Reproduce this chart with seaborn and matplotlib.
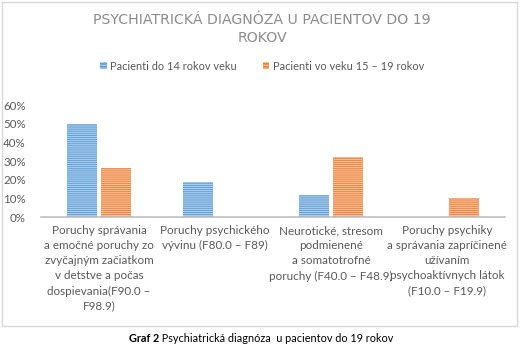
import matplotlib
matplotlib.use("Agg")
import matplotlib.pyplot as plt
from matplotlib.patches import Rectangle, Patch
from matplotlib.ticker import PercentFormatter
import seaborn as sns
import pandas as pd

# --- data -------------------------------------------------------------
categories = [
    "Poruchy správania\na emočné poruchy zo\nzvyčajným začiatkom\nv detstve a počas\ndospievania(F90.0 –\nF98.9)",
    "Poruchy psychického\nvývinu (F80.0 – F89)",
    "Neurotické, stresom\npodmienené\na somatotrofné\nporuchy (F40.0 – F48.9)",
    "Poruchy psychiky\na správania zapríčinené\nužívaním\npsychoaktívnych látok\n(F10.0 – F19.9)",
]
series_names = ["Pacienti do 14 rokov veku", "Pacienti vo veku 15 – 19 rokov"]
under_14 = [0.50, 0.19, 0.12, 0.0]
age_15_19 = [0.26, 0.0, 0.32, 0.10]
y_ticks = [0.0, 0.1, 0.2, 0.3, 0.4, 0.5, 0.6]

title = "PSYCHIATRICKÁ DIAGNÓZA U PACIENTOV DO 19\nROKOV"
caption_bold = "Graf 2"
caption_rest = " Psychiatrická diagnóza  u pacientov do 19 rokov"

# --- styling ------------------------------------------------------------
sns.set_theme(style="white")
plt.rcParams["font.family"] = ["Lato", "DejaVu Sans"]
plt.rcParams["hatch.linewidth"] = 0.9

blue = "#5B9BD5"
orange = "#ED7D31"
blue_light = "#A9CBEA"
orange_light = "#F6BE98"
text_grey = "#595959"

df = pd.DataFrame({
    "category": categories * 2,
    "series": [series_names[0]] * len(categories) + [series_names[1]] * len(categories),
    "value": under_14 + age_15_19,
})

W, H = 524, 345
fig = plt.figure(figsize=(W / 100, H / 100), dpi=100)
ax = fig.add_axes([41 / W, 1 - 217 / H, 464 / W, 112 / H])

sns.barplot(
    data=df, x="category", y="value", hue="series",
    order=categories, hue_order=series_names,
    palette=[blue, orange], width=0.58, gap=0.1,
    saturation=1, ax=ax, legend=True,
)

# striped fill: the hatch is drawn in the edge colour
for bar in ax.patches:
    fc = matplotlib.colors.to_hex(bar.get_facecolor())
    light = blue_light if fc.lower() == blue.lower() else orange_light
    bar.set_hatch("--------")
    bar.set_edgecolor(light)
    bar.set_linewidth(0)

ax.set_ylim(0, 0.6)
ax.set_yticks(y_ticks)
ax.yaxis.set_major_formatter(PercentFormatter(1.0, decimals=0))
ax.set_xlim(-0.5, len(categories) - 0.5)
ax.set_xlabel("")
ax.set_ylabel("")
for side in ["left", "right", "top"]:
    ax.spines[side].set_visible(False)
ax.spines["bottom"].set_color("#BFBFBF")
ax.spines["bottom"].set_linewidth(1.2)
ax.tick_params(axis="both", length=0, colors=text_grey, labelsize=8.3)
ax.tick_params(axis="y", pad=11)
ax.tick_params(axis="x", pad=6)
for lab in ax.get_xticklabels():
    lab.set_linespacing(1.45)
    lab.set_fontsize(8.4)

# legend above the plot
handles = [
    Patch(facecolor=blue, edgecolor=blue_light, hatch="------", linewidth=0),
    Patch(facecolor=orange, edgecolor=orange_light, hatch="------", linewidth=0),
]
ax.get_legend().remove()
fig.legend(
    handles, series_names, loc="center", bbox_to_anchor=(262 / W, 1 - 66 / H),
    ncol=2, frameon=False, fontsize=7.9, labelcolor=text_grey,
    handlelength=0.6, handleheight=0.6, handletextpad=0.3, columnspacing=2.4,
)

# title
fig.text(262 / W, 1 - 29 / H, title, ha="center", va="center",
         fontsize=10.2, color="#8C8C8C", family="DejaVu Sans",
         linespacing=1.3)

# chart frame
fig.add_artist(Rectangle((2 / W, 1 - 326 / H), 515 / W, 324 / H,
                         transform=fig.transFigure, fill=False,
                         edgecolor="#D9D9D9", linewidth=1))

# caption below the frame
renderer = fig.canvas.get_renderer()
t_bold = fig.text(0, 1 - 338 / H, caption_bold, fontsize=7.8, fontweight="bold",
                  color="black", va="center")
t_rest = fig.text(0, 1 - 338 / H, caption_rest, fontsize=7.8,
                  color="black", va="center")
wb = t_bold.get_window_extent(renderer).width
wr = t_rest.get_window_extent(renderer).width
x0 = 261 - (wb + wr) / 2
t_bold.set_x(x0 / W)
t_rest.set_x((x0 + wb) / W)

fig.savefig("out.png", dpi=100)
